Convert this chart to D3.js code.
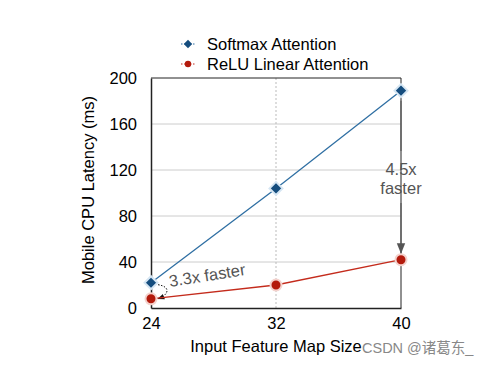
<!DOCTYPE html>
<html><head><meta charset="utf-8">
<script src="https://cdn.jsdelivr.net/npm/d3@7"></script>
<style>body{margin:0;background:#fff}svg{display:block;font-family:"Liberation Sans",Arial,sans-serif}</style>
</head><body>
<svg id="c" width="493" height="365"></svg>
<script>
const sizes = [24, 32, 40];
const softmax = [22, 104, 189];
const relu = [8, 20, 42];
const yTicks = [0, 40, 80, 120, 160, 200];
const seriesNames = ["Softmax Attention", "ReLU Linear Attention"];

const svg = d3.select("#c");
const x = d3.scaleLinear().domain([24, 40]).range([151, 401]);
const y = d3.scaleLinear().domain([0, 200]).range([308, 78]);
const FS = 16.5;

// grid
svg.append("g").selectAll("line").data(yTicks.slice(1, -1)).join("line")
  .attr("x1", x(24)).attr("x2", x(40)).attr("y1", d => y(d)).attr("y2", d => y(d))
  .attr("stroke", "#ccc").attr("stroke-width", 1);
svg.append("line").attr("x1", x(32)).attr("x2", x(32)).attr("y1", y(200)).attr("y2", y(0))
  .attr("stroke", "#bbb").attr("stroke-dasharray", "2,2");
// frame
svg.append("path").attr("d", `M${x(24)},${y(200)}H${x(40)}V${y(0)}`).attr("fill", "none").attr("stroke", "#222");

// axes
const ya = svg.append("g").attr("transform", `translate(${x(24)},0)`)
  .call(d3.axisLeft(y).tickValues(yTicks).tickSize(0).tickPadding(14));
const xa = svg.append("g").attr("transform", `translate(0,${y(0)})`)
  .call(d3.axisBottom(x).tickValues(sizes).tickSize(0).tickPadding(9));
[ya, xa].forEach(a => {
  a.select(".domain").attr("stroke", "#222").attr("stroke-width", 1.5);
  a.selectAll("text").attr("font-size", FS).attr("fill", "#000").attr("font-family", "Liberation Sans, Arial, sans-serif");
});

svg.append("text").attr("x", 276).attr("y", 352).attr("text-anchor", "middle")
  .attr("font-size", FS).text("Input Feature Map Size");
svg.append("text").attr("transform", "translate(94,190) rotate(-90)").attr("text-anchor", "middle")
  .attr("font-size", FS).text("Mobile CPU Latency (ms)");

// annotations
svg.append("defs").html(`<marker id="ah" viewBox="0 0 10 10" refX="9" refY="5" markerWidth="7" markerHeight="7" orient="auto"><path d="M0,1L10,5L0,9z" fill="#555"/></marker>
<marker id="ah2" viewBox="0 0 10 10" refX="9" refY="5" markerWidth="7" markerHeight="7" orient="auto"><path d="M0,1L10,5L0,9z" fill="#111"/></marker>`);
svg.append("line").attr("x1", x(40)).attr("x2", x(40)).attr("y1", y(softmax[2]) + 10).attr("y2", 151)
  .attr("stroke", "#666").attr("stroke-width", 1.5);
svg.append("line").attr("x1", x(40)).attr("x2", x(40)).attr("y1", 203).attr("y2", y(relu[2]) - 7)
  .attr("stroke", "#666").attr("stroke-width", 1.5).attr("marker-end", "url(#ah)");
svg.append("text").attr("x", x(40)).attr("y", 175).attr("text-anchor", "middle").attr("font-size", FS).attr("fill", "#555").text("4.5x");
svg.append("text").attr("x", x(40)).attr("y", 194).attr("text-anchor", "middle").attr("font-size", FS).attr("fill", "#555").text("faster");

svg.append("path").attr("d", `M${x(24)+7},${y(softmax[0])+2} C${x(24)+20},${y(softmax[0])+4} ${x(24)+18},${y(relu[0])-4} ${x(24)+7},${y(relu[0])}`)
  .attr("fill", "none").attr("stroke", "#111").attr("stroke-dasharray", "1.5,1.5").attr("marker-end", "url(#ah2)");
svg.append("text").attr("transform", `translate(170,287) rotate(-9)`).attr("font-size", FS).attr("fill", "#555").text("3.3x faster");

// lines
const line = d3.line().x((d, i) => x(sizes[i])).y(d => y(d));
svg.append("path").datum(softmax).attr("d", line).attr("fill", "none").attr("stroke", "#2f6fa3").attr("stroke-width", 1.3);
svg.append("path").datum(relu).attr("d", line).attr("fill", "none").attr("stroke", "#c42b1c").attr("stroke-width", 1.3);

const dia = r => `M0,${-r}L${r},0L0,${r}L${-r},0Z`;
svg.append("g").selectAll("path").data(softmax).join("path")
  .attr("transform", (d, i) => `translate(${x(sizes[i])},${y(d)})`)
  .attr("d", dia(6.5)).attr("fill", "#154d7e").attr("stroke", "#d6e6f3").attr("stroke-width", 2);
svg.append("g").selectAll("circle").data(relu).join("circle")
  .attr("cx", (d, i) => x(sizes[i])).attr("cy", d => y(d)).attr("r", 5.5)
  .attr("fill", "#b31a0c").attr("stroke", "#f4d2cd").attr("stroke-width", 2);

// legend
const lg = svg.append("g");
[0, 1].forEach(i => {
  const yy = 44 + i * 20;
  lg.append("line").attr("x1", 181).attr("x2", 195).attr("y1", yy).attr("y2", yy)
    .attr("stroke", i ? "#c42b1c" : "#2f6fa3").attr("stroke-dasharray", "1.5,1.5");
  if (i === 0) lg.append("path").attr("transform", `translate(188,${yy})`).attr("d", dia(4.2)).attr("fill", "#154d7e");
  else lg.append("circle").attr("cx", 188).attr("cy", yy).attr("r", 3.2).attr("fill", "#b31a0c");
  lg.append("text").attr("x", 207).attr("y", yy + 6).attr("font-size", FS).text(seriesNames[i]);
});

svg.append("text").attr("x", 362).attr("y", 353).attr("font-size", 14.5).attr("fill", "#888")
  .attr("font-family", "Liberation Sans, 'Noto Sans CJK SC', sans-serif").text("CSDN @诸葛东_");
</script>
</body></html>
